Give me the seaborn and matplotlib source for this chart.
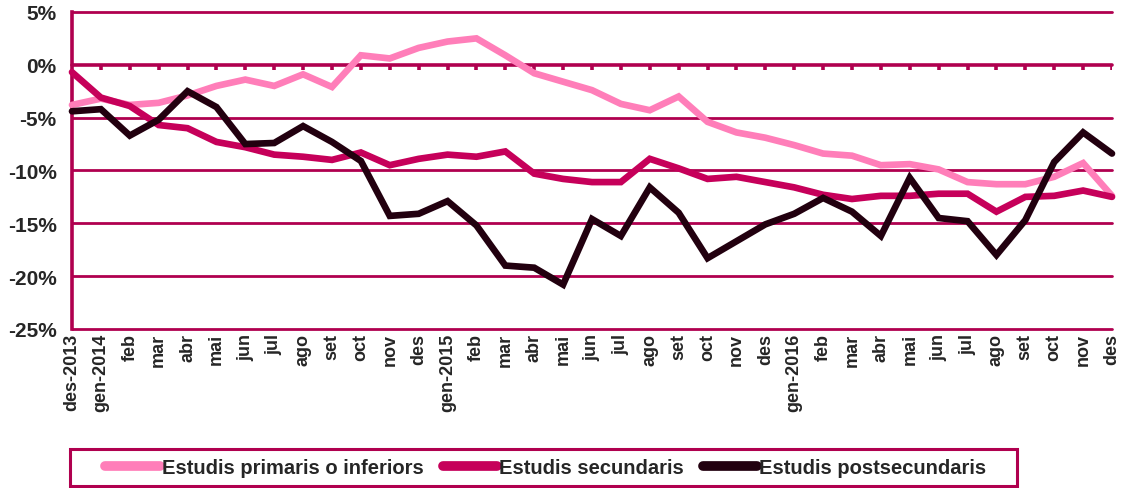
import matplotlib
matplotlib.use('Agg')

import numpy as np
import pandas as pd
import seaborn as sns
import matplotlib.pyplot as plt
from matplotlib.patches import Rectangle

months = ["des-2013", "gen-2014", "feb", "mar", "abr", "mai", "jun", "jul", "ago", "set", "oct", "nov",
          "des", "gen-2015", "feb", "mar", "abr", "mai", "jun", "jul", "ago", "set", "oct", "nov",
          "des", "gen-2016", "feb", "mar", "abr", "mai", "jun", "jul", "ago", "set", "oct", "nov", "des"]

primaris = [-3.8, -3.2, -3.8, -3.6, -2.9, -2.0, -1.4, -2.0, -0.9, -2.1, 0.9, 0.6,
            1.6, 2.2, 2.5, 0.9, -0.8, -1.6, -2.4, -3.7, -4.3, -3.0, -5.4, -6.4,
            -6.9, -7.6, -8.4, -8.6, -9.5, -9.4, -9.9, -11.1, -11.3, -11.3, -10.6, -9.3, -12.4]
secundaris = [-0.7, -3.1, -3.9, -5.7, -6.0, -7.3, -7.8, -8.5, -8.7, -9.0, -8.3, -9.5,
              -8.9, -8.5, -8.7, -8.2, -10.3, -10.8, -11.1, -11.1, -8.9, -9.8, -10.8, -10.6,
              -11.1, -11.6, -12.3, -12.7, -12.4, -12.4, -12.2, -12.2, -13.9, -12.5, -12.4, -11.9, -12.5]
postsecundaris = [-4.4, -4.2, -6.7, -5.2, -2.5, -4.0, -7.5, -7.4, -5.8, -7.3, -9.1, -14.3,
                  -14.1, -12.9, -15.2, -19.0, -19.2, -20.8, -14.6, -16.2, -11.6, -14.0, -18.3, -16.7,
                  -15.1, -14.1, -12.6, -13.9, -16.2, -10.7, -14.5, -14.8, -18.0, -14.7, -9.2, -6.4, -8.4]

series_names = ["Estudis primaris o inferiors", "Estudis secundaris", "Estudis postsecundaris"]
colors = ["#FF7EB9", "#C6005A", "#22000F"]
grid_color = "#B0004F"

idx = np.arange(len(months))
df = pd.concat([
    pd.DataFrame({"idx": idx, "valor": vals, "serie": name})
    for name, vals in zip(series_names, [primaris, secundaris, postsecundaris])
])

sns.set_style("white")
plt.rcParams['font.family'] = ['Liberation Sans', 'DejaVu Sans']

fig = plt.figure(figsize=(11.23, 4.89), dpi=100)
ax = fig.add_axes([0.0641, 0.3252, 0.9261, 0.6483])

# gridlines
for yv in range(-25, 10, 5):
    ax.axhline(yv, color=grid_color, lw=2.6 if yv == 0 else 2.0, zorder=1)

sns.lineplot(data=df, x="idx", y="valor", hue="serie", palette=dict(zip(series_names, colors)),
             linewidth=4.8, ax=ax, legend=False, zorder=3)
for ln in ax.get_lines():
    ln.set_clip_on(False)
    ln.set_solid_joinstyle('miter')

# category ticks hanging from the zero line
ax.vlines(idx[1:], -0.45, 0, color=grid_color, lw=2.6, zorder=1)

ax.set_xlim(0, len(months) - 1)
ax.set_ylim(-25, 5)
ax.set_xticks(idx)
ax.set_xticklabels(months, rotation=90, fontsize=13, fontweight='bold', va='top')
ax.set_yticks(range(-25, 10, 5))
ax.set_yticklabels([f"{v}%" for v in range(-25, 10, 5)], fontsize=15, fontweight='bold')
ax.tick_params(axis='x', length=0, pad=3)
ax.tick_params(axis='y', length=5, width=2.2, color=grid_color, pad=6, direction='out')
ax.set_xlabel("")
ax.set_ylabel("")

for s in ["top", "right", "bottom"]:
    ax.spines[s].set_visible(False)
ax.spines["left"].set_color(grid_color)
ax.spines["left"].set_linewidth(2.6)

handles = [plt.Line2D([], [], color=c, lw=7, solid_capstyle='round') for c in colors]
leg = fig.legend(handles, series_names, loc='center', bbox_to_anchor=(0.486, 0.042), ncol=3,
                 frameon=False, handlelength=2.7, handletextpad=0.1,
                 columnspacing=0.95, borderpad=0.4,
                 prop={'weight': 'bold', 'size': 14.5, 'family': ['Liberation Sans', 'DejaVu Sans']})
# legend box
fig.patches.append(Rectangle((70 / 1123, 2 / 489), 947 / 1123, 37 / 489, transform=fig.transFigure,
                             fill=False, edgecolor=grid_color, linewidth=2.2))

fig.savefig("out.png", dpi=100)
plt.close()
